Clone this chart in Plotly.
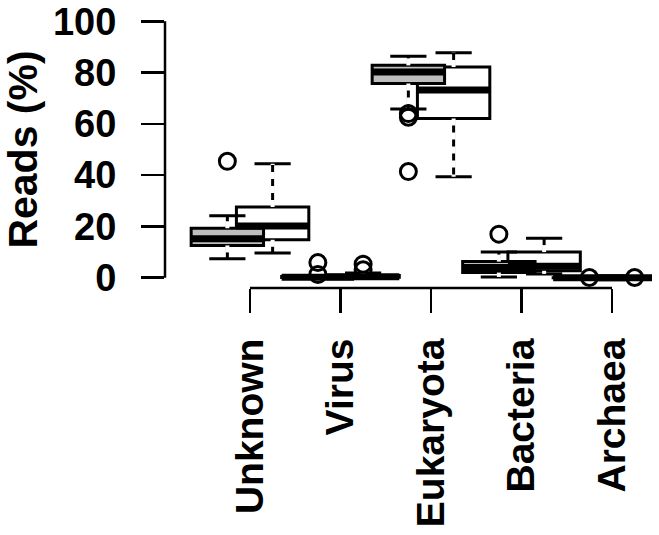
import plotly.graph_objects as go

# ---------------- data ----------------
categories = ["Unknown", "Virus", "Eukaryota", "Bacteria", "Archaea"]

# grey boxes
g_lower = [7.4, 0.0, 65.8, 0.3, 0.0]
g_q1 = [12.6, 0.1, 75.7, 2.0, 0.0]
g_median = [15.2, 0.2, 80.2, 4.0, 0.01]
g_q3 = [19.3, 0.5, 82.8, 6.3, 0.03]
g_upper = [24.2, 0.9, 86.4, 10.0, 0.06]
g_out_cat = ["Unknown", "Virus", "Virus", "Eukaryota", "Eukaryota", "Eukaryota", "Bacteria", "Archaea"]
g_out_val = [45.4, 5.9, 1.3, 64.0, 62.6, 41.4, 17.0, 0.1]

# white boxes
w_lower = [9.6, 0.0, 39.4, 1.5, 0.0]
w_q1 = [14.8, 0.2, 62.1, 2.7, 0.0]
w_median = [20.2, 0.4, 73.2, 4.5, 0.01]
w_q3 = [27.6, 0.9, 82.2, 10.0, 0.03]
w_upper = [44.4, 1.8, 87.7, 15.4, 0.06]
w_out_cat = ["Virus", "Virus", "Archaea"]
w_out_val = [5.3, 3.1, 0.1]

y_ticks = [0, 20, 40, 60, 80, 100]

# ---------------- layout helpers ----------------
SHIFT = 0.25      # half distance between grey and white box centres
BOXW = 0.8        # box width in category units
LW = 3
FAMILY = "Liberation Sans, Arial, Helvetica, sans-serif"
FONT = dict(family=FAMILY, size=38, color="black", weight="bold")
XFONT = dict(family=FAMILY, size=39, color="black", weight="bold")
TFONT = dict(family=FAMILY, size=41, color="black", weight="bold")

idx = {c: i for i, c in enumerate(categories)}
g_x = [i - SHIFT for i in range(len(categories))]
w_x = [i + SHIFT for i in range(len(categories))]

fig = go.Figure()

def add_group(xs, q1, med, q3, lo, up, fill):
    fig.add_trace(go.Box(
        x=xs, q1=q1, median=med, q3=q3, lowerfence=lo, upperfence=up,
        width=BOXW, whiskerwidth=0.5, fillcolor=fill,
        line=dict(color="black", width=LW), boxpoints=False,
        hoverinfo="skip", showlegend=False,
    ))

# white first so the grey boxes lie on top of them
add_group(w_x, w_q1, w_median, w_q3, w_lower, w_upper, "white")
add_group(g_x, g_q1, g_median, g_q3, g_lower, g_upper, "#BEBEBE")

# dashed look for the whiskers (white dashes over the solid whisker)
def whisker_dash(xs, q1, q3, lo, up):
    wx, wy = [], []
    for x, a, b, l, u in zip(xs, q1, q3, lo, up):
        wx += [x, x, None, x, x, None]
        wy += [b, u, None, a, l, None]
    fig.add_trace(go.Scatter(
        x=wx, y=wy, mode="lines", line=dict(color="white", width=LW + 1, dash="7px,7px"),
        hoverinfo="skip", showlegend=False, connectgaps=False,
    ))

whisker_dash(w_x, w_q1, w_q3, w_lower, w_upper)
whisker_dash(g_x, g_q1, g_q3, g_lower, g_upper)

# thick median bars (R style)
def medians(xs, med):
    mx, my = [], []
    for x, m in zip(xs, med):
        mx += [x - BOXW / 2, x + BOXW / 2, None]
        my += [m, m, None]
    fig.add_trace(go.Scatter(
        x=mx, y=my, mode="lines", line=dict(color="black", width=7),
        hoverinfo="skip", showlegend=False,
    ))

medians(w_x, w_median)
medians(g_x, g_median)

# outliers
def outliers(cats, vals, shift):
    fig.add_trace(go.Scatter(
        x=[idx[c] + shift for c in cats], y=vals, mode="markers",
        marker=dict(symbol="circle-open", size=16, color="black", line=dict(width=3, color="black")),
        hoverinfo="skip", showlegend=False, cliponaxis=False,
    ))

outliers(w_out_cat, w_out_val, SHIFT)
outliers(g_out_cat, g_out_val, -SHIFT)

# R-style axis lines spanning only the tick range
fig.add_shape(type="line", xref="x", yref="paper", x0=0, x1=len(categories) - 1, y0=0, y1=0,
              line=dict(color="black", width=2.5))
fig.add_shape(type="line", xref="paper", yref="y", x0=0, x1=0, y0=y_ticks[0], y1=y_ticks[-1],
              line=dict(color="black", width=2.5))

fig.update_layout(
    width=659, height=535,
    margin=dict(l=165, r=7, t=11, b=247, autoexpand=False),
    paper_bgcolor="white", plot_bgcolor="white",
    boxmode="overlay",
    font=FONT,
    xaxis=dict(
        range=[-0.939, 4.442], tickmode="array", tickvals=list(range(len(categories))),
        ticktext=categories, tickangle=-90, ticks="outside", ticklen=24, tickwidth=2.5,
        tickcolor="black", showline=False, showgrid=False, zeroline=False,
        tickfont=XFONT, ticklabelstandoff=10, automargin=False, ticklabeloverflow="allow",
    ),
    yaxis=dict(
        range=[-4, 104], tickmode="array", tickvals=y_ticks, ticktext=[str(t) for t in y_ticks],
        ticks="outside", ticklen=23, tickwidth=2.5, tickcolor="black",
        showline=False, showgrid=False, zeroline=False,
        tickfont=FONT, ticklabelstandoff=17, automargin=False, ticklabeloverflow="allow",
        title=dict(text="Reads (%)", font=TFONT, standoff=28),
    ),
)

# remove the default 8px page margin so the figure fills the window exactly
fig.write_html(
    "out.html",
    config={"displayModeBar": False, "staticPlot": True},
    post_script="document.body.style.margin='0px';",
)
